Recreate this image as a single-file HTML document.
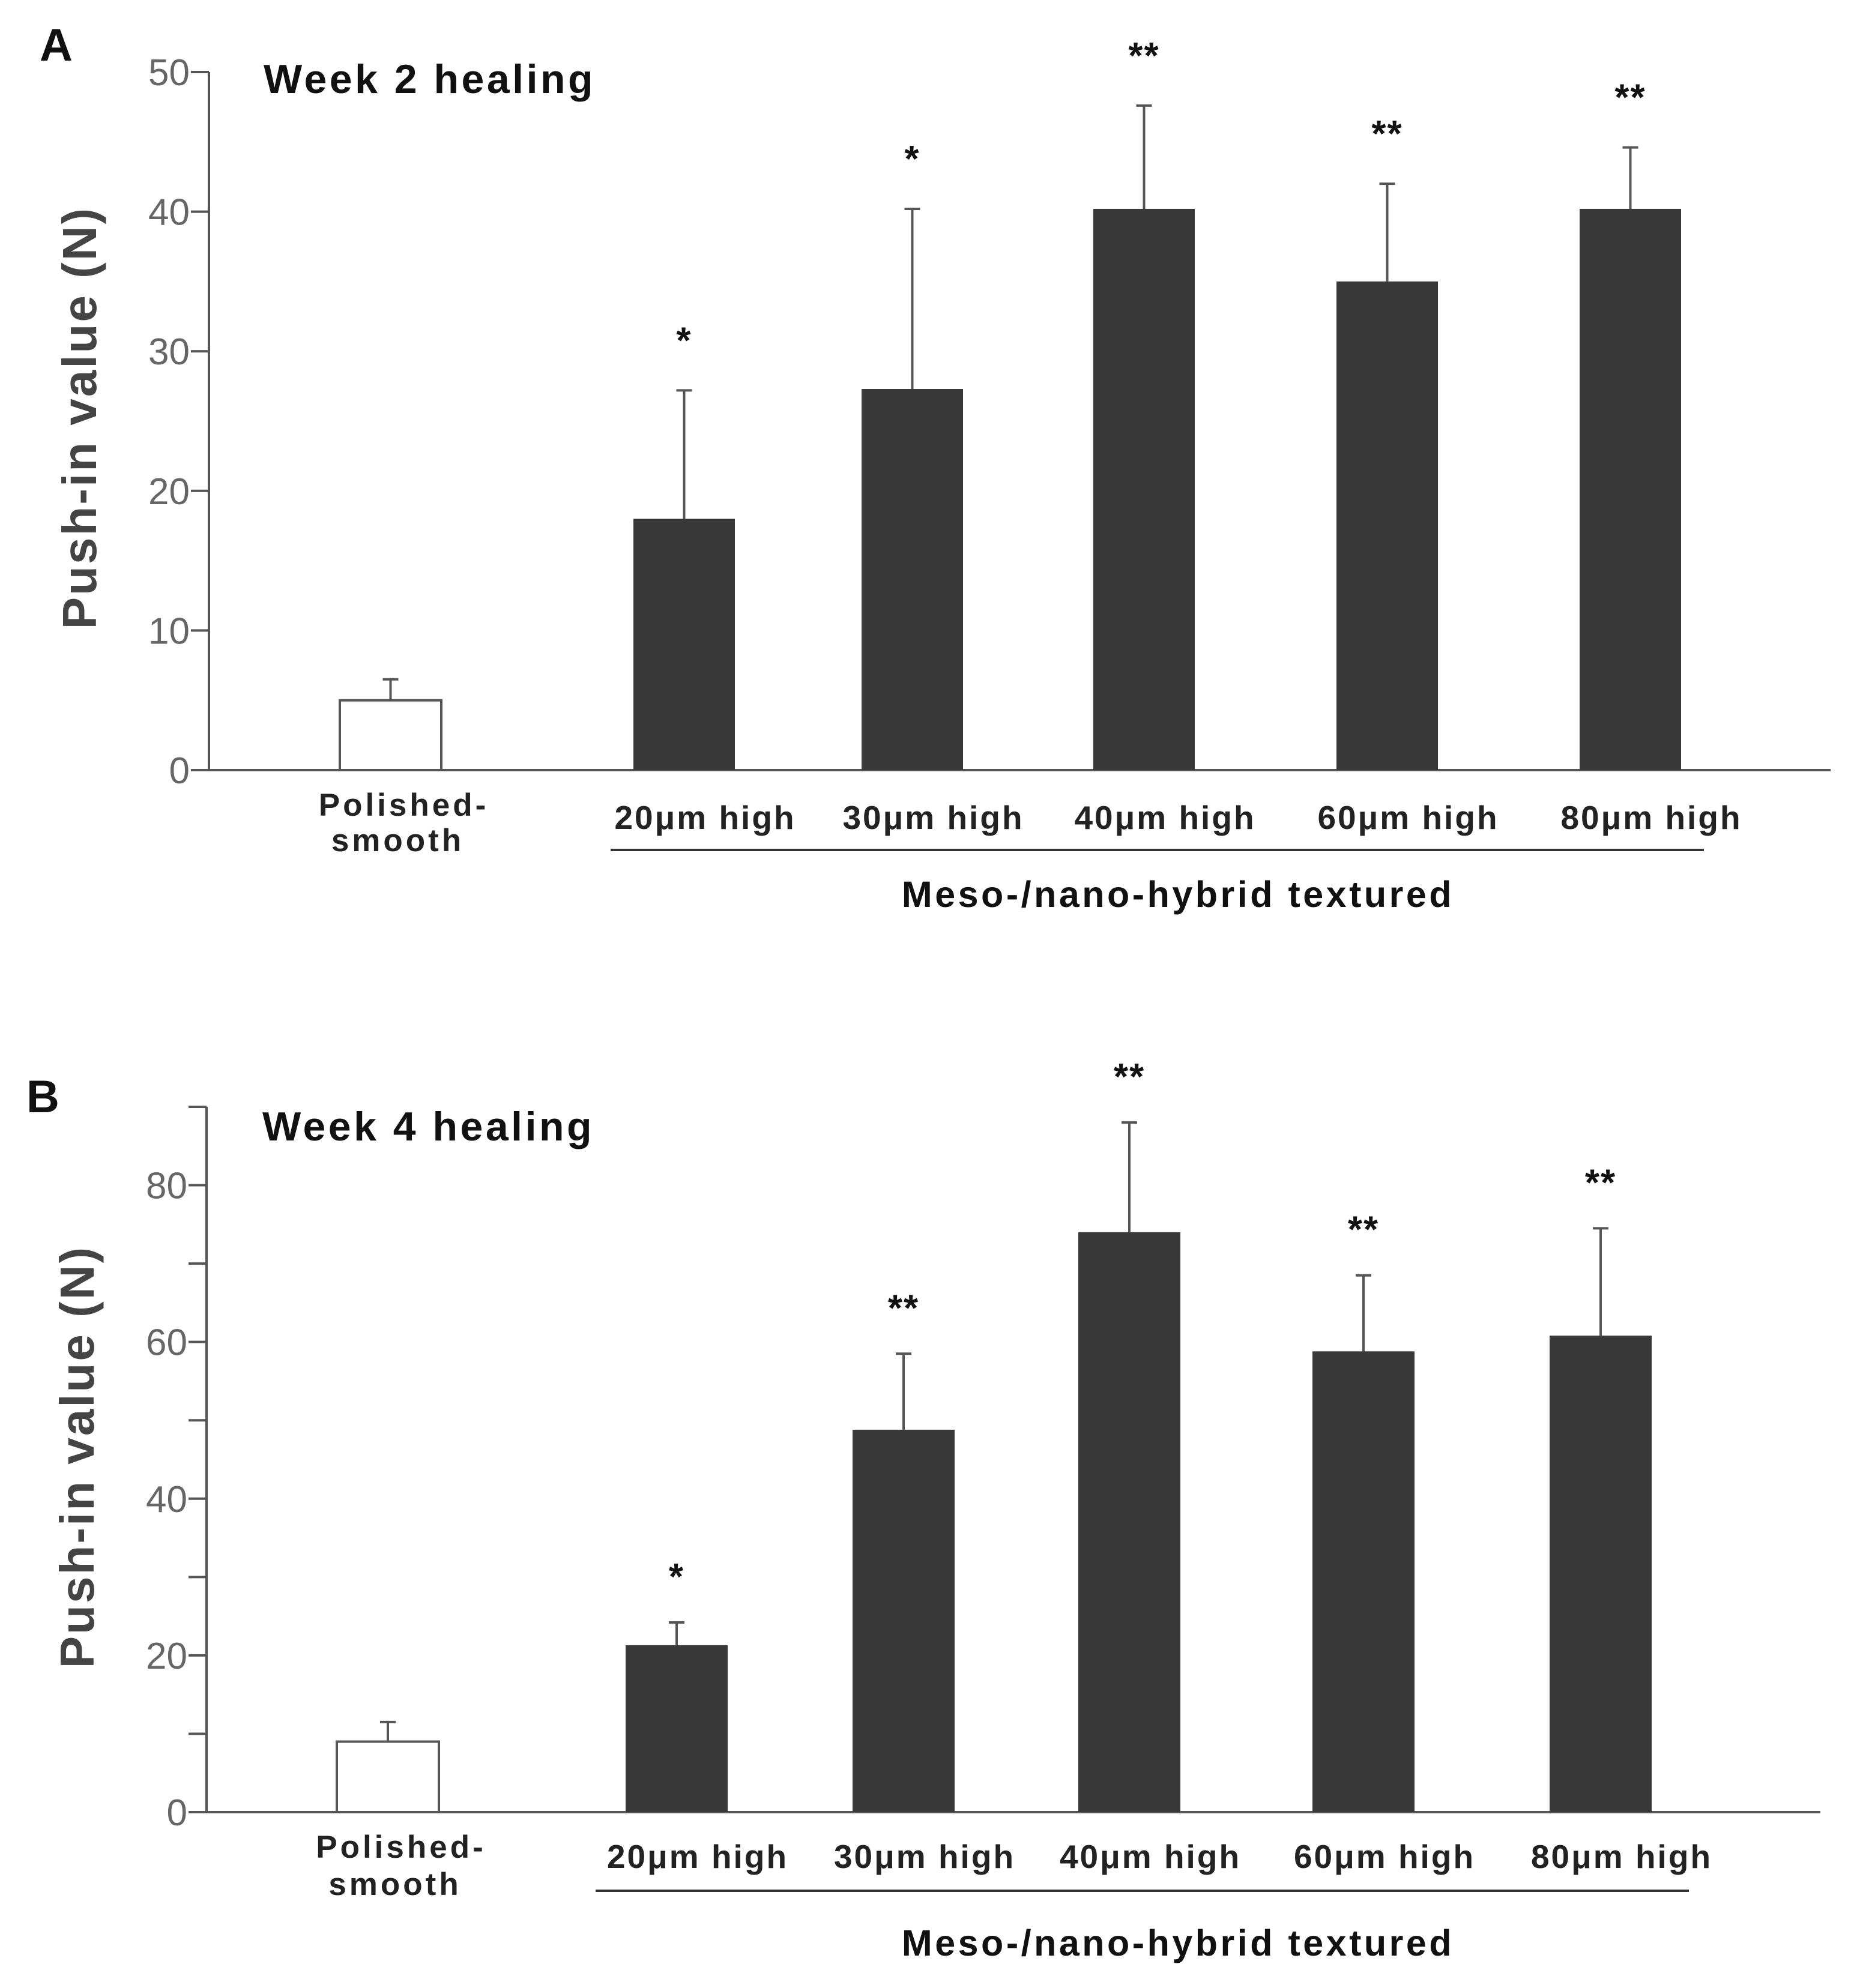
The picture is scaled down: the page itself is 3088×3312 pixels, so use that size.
<!DOCTYPE html>
<html><head><meta charset="utf-8"><style>
body{margin:0;background:#fff}
svg{display:block;font-family:"Liberation Sans",Arial,sans-serif}
</style></head><body>
<svg id="chart" width="3088" height="3312" viewBox="0 0 3088 3312"></svg>
<script>
const categories = ["Polished-smooth","20μm high","30μm high","40μm high","60μm high","80μm high"];
const weekTwoMeans = [5, 18, 27.3, 40.2, 35, 40.2];
const weekTwoErrTops = [6.5, 27.2, 40.2, 47.6, 42, 44.6];
const weekTwoStars = ["", "*", "*", "**", "**", "**"];
const weekFourMeans = [9, 21.3, 48.8, 74, 58.8, 60.8];
const weekFourErrTops = [11.5, 24.2, 58.5, 88, 68.5, 74.5];
const weekFourStars = ["", "*", "**", "**", "**", "**"];
const weekTwoTicks = [0, 10, 20, 30, 40, 50];
const weekFourTicks = [0, 10, 20, 30, 40, 50, 60, 70, 80, 90];
const weekFourTickLabels = ["0", "", "20", "", "40", "", "60", "", "80", ""];

const NS = "http://www.w3.org/2000/svg";
const svg = document.getElementById("chart");
function mk(tag, attrs, parent, text){
  const e = document.createElementNS(NS, tag);
  for (const k in attrs) e.setAttribute(k, attrs[k]);
  if (text !== undefined) e.textContent = text;
  (parent || svg).appendChild(e);
  return e;
}

function panel(cfg){
  const g = mk("g", {});
  
  
  const y = v => cfg.y0 - (v - 0) * (cfg.y0 - cfg.yTop) / cfg.vMax;
  const x = i => cfg.barX[i];
  const ya = mk("line", {x1:cfg.ax, y1:y(cfg.vMax), x2:cfg.ax, y2:cfg.y0, stroke:"#555", "stroke-width":4}, g);
  
  
  const xa = mk("line", {x1:cfg.ax, y1:cfg.y0, x2:cfg.xEnd, y2:cfg.y0, stroke:"#555", "stroke-width":4}, g);
  
  
  cfg.ticks.forEach((t, i) => {
    const tk = mk("line", {x1:cfg.ax - 30, y1:y(t), x2:cfg.ax, y2:y(t), stroke:"#555", "stroke-width":4}, g);
    
    
    const lab = cfg.tickLabels[i];
    if (lab !== "") {
      const tl = mk("text", {x:cfg.ax - 32, y:y(t) + 22, "text-anchor":"end", "font-size":62, fill:"#666"}, g, lab);
      
      
    }
  });
  cfg.means.forEach((m, i) => {
    const cx = x(i) + cfg.bw / 2;
    const eb = mk("line", {x1:cx, y1:y(m), x2:cx, y2:y(cfg.errs[i]), stroke:"#555", "stroke-width":4}, g);
    
    
    const cap = mk("line", {x1:cx - 13, y1:y(cfg.errs[i]), x2:cx + 13, y2:y(cfg.errs[i]), stroke:"#555", "stroke-width":4}, g);
    
    
    const r = mk("rect", {x:x(i), y:y(m), width:cfg.bw, height:cfg.y0 - y(m),
      fill: i === 0 ? "#fff" : "#383838", stroke: i === 0 ? "#555" : "none", "stroke-width":4}, g);
    
    
    if (cfg.stars[i]) {
      const s = mk("text", {x:cx, y:y(cfg.errs[i]) - cfg.starOff, "text-anchor":"middle", "font-size":62, "font-weight":"bold", fill:"#111", "letter-spacing":2}, g, cfg.stars[i]);
      
      
    }
    if (i === 0) {
      const p1 = mk("text", {x:cx + 22, y:cfg.polY1, "text-anchor":"middle", "font-size":53, "font-weight":"bold", fill:"#222", "letter-spacing":5}, g, "Polished-");
      
      
      const p2 = mk("text", {x:cx + 12, y:cfg.polY2, "text-anchor":"middle", "font-size":53, "font-weight":"bold", fill:"#222", "letter-spacing":5}, g, "smooth");
      
      
    } else {
      const c = mk("text", {x:cx + 35, y:cfg.labY, "text-anchor":"middle", "font-size":55, "font-weight":"bold", fill:"#222", "letter-spacing":3}, g, categories[i]);
      
      
    }
  });
  const ul = mk("line", {x1:cfg.ulX1, y1:cfg.ulY, x2:cfg.ulX2, y2:cfg.ulY, stroke:"#333", "stroke-width":4}, g);
  
  
  const gl = mk("text", {x:1962, y:cfg.groupY, "text-anchor":"middle", "font-size":61, "font-weight":"bold", fill:"#111", "letter-spacing":4.5}, g, "Meso-/nano-hybrid textured");
  
  
  const tt = mk("text", {x:cfg.titleX, y:cfg.titleY, "font-size":68, "font-weight":"bold", fill:"#111", "letter-spacing":4.5}, g, cfg.title);
  
  
  const pl = mk("text", {x:cfg.letterX, y:cfg.letterY, "font-size":76, "font-weight":"bold", fill:"#111"}, g, cfg.letter);
  
  
  const yt = mk("text", {x:0, y:0, "text-anchor":"middle", "font-size":80, "font-weight":"bold", fill:"#444",
    transform:"translate(" + (cfg.ax - 188) + "," + cfg.yTitleC + ") rotate(-90)", "letter-spacing":3}, g, "Push-in value (N)");
  
  
}

panel({name:"panel-a-week-2", y0:1283, yTop:120, vMax:50, ax:348, xEnd:3049, bw:169,
  barX:[566,1055,1435,1821,2226,2631], means:weekTwoMeans, errs:weekTwoErrTops, stars:weekTwoStars,
  ticks:weekTwoTicks, tickLabels:weekTwoTicks.map(String), starOff:62,
  polY1:1359, polY2:1418, labY:1381, ulX1:1017, ulX2:2838, ulY:1416, groupY:1511,
  title:"Week 2 healing", titleX:439, titleY:155, letter:"A", letterX:66, letterY:101, yTitleC:696});
panel({name:"panel-b-week-4", y0:3019, yTop:1844, vMax:90, ax:344, xEnd:3032, bw:170,
  barX:[561,1042,1420,1796,2186,2581], means:weekFourMeans, errs:weekFourErrTops, stars:weekFourStars,
  ticks:weekFourTicks, tickLabels:weekFourTickLabels, starOff:55,
  polY1:3095, polY2:3157, labY:3112, ulX1:992, ulX2:2813, ulY:3150, groupY:3258,
  title:"Week 4 healing", titleX:437, titleY:1900, letter:"B", letterX:44, letterY:1853, yTitleC:2427});
</script>
</body></html>
